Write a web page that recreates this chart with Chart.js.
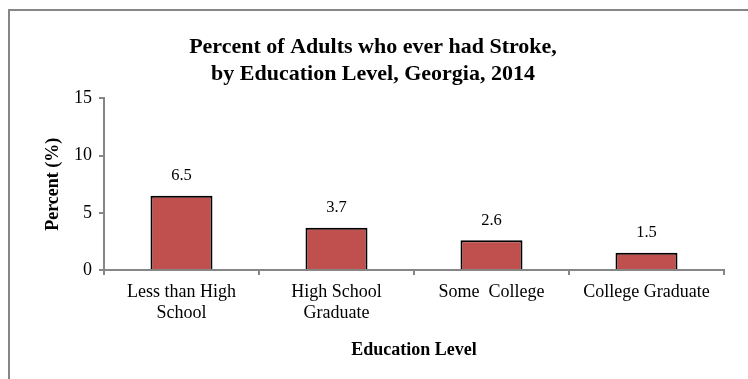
<!DOCTYPE html>
<html>
<head>
<meta charset="utf-8">
<script src="https://cdn.jsdelivr.net/npm/chart.js@4/dist/chart.umd.min.js"></script>
<style>
    body { margin: 0; background: #fff; }
    #wrap { position: relative; width: 748px; height: 379px; overflow: hidden; }
    #frame { position: absolute; left: 8px; top: 9px; width: 800px; height: 400px;
             border-left: 2px solid #868686; border-top: 2px solid #868686; pointer-events: none; }
</style>
</head>
<body>
<div id="wrap">
    <canvas id="strokeChart" width="748" height="379"></canvas>
    <div id="frame"></div>
</div>
<script>
'use strict'

const categories = [
    ['Less than High', 'School'],
    ['High School', 'Graduate'],
    'Some  College',
    'College Graduate'
];
const percentValues = [6.5, 3.7, 2.6, 1.5];
const yTicks = [0, 5, 10, 15];

const serif = "'Liberation Serif', 'Times New Roman', serif";
const axisGray = '#868686';

// value labels above each bar
const valueLabels = {
    id: 'valueLabels',
    afterDatasetsDraw(chart) {
        const ctx = chart.ctx;
        const meta = chart.getDatasetMeta(0);
        ctx.save();
        ctx.font = '16.5px ' + serif;
        ctx.fillStyle = '#000';
        ctx.textAlign = 'center';
        ctx.textBaseline = 'middle';
        meta.data.forEach((bar, i) => {
            ctx.fillText(percentValues[i].toFixed(1), bar.x, bar.y - 20);
        });
        ctx.restore();
    }
};

const ctx = document.getElementById('strokeChart').getContext('2d');

new Chart(ctx, {
    type: 'bar',
    data: {
        labels: categories,
        datasets: [{
            label: 'Percent',
            data: percentValues,
            backgroundColor: '#c0504d',
            borderColor: '#000',
            borderWidth: 2,
            borderSkipped: 'bottom',
            barPercentage: 0.4,
            categoryPercentage: 1
        }]
    },
    options: {
        responsive: false,
        animation: false,
        layout: {
            padding: { top: 10, left: 22, right: 24, bottom: 0 }
        },
        plugins: {
            legend: { display: false },
            tooltip: { enabled: false },
            title: {
                display: true,
                text: ['Percent of Adults who ever had Stroke,', 'by Education Level, Georgia, 2014'],
                color: '#000',
                font: { family: serif, size: 22, weight: 'bold', lineHeight: 1.227 },
                padding: { top: 23.5, bottom: 11 }
            }
        },
        scales: {
            x: {
                afterFit(scale) { scale.height = 109; },
                grid: {
                    drawOnChartArea: false,
                    drawTicks: true,
                    tickLength: 5,
                    color: axisGray,
                    lineWidth: 2
                },
                border: { color: axisGray, width: 2 },
                ticks: {
                    color: '#000',
                    padding: 7,
                    maxRotation: 0,
                    font: { family: serif, size: 18, lineHeight: 1.15 }
                },
                title: {
                    display: true,
                    text: 'Education Level',
                    color: '#000',
                    font: { family: serif, size: 18, weight: 'bold', lineHeight: 1.2 },
                    padding: { top: 0, bottom: 18.2 }
                }
            },
            y: {
                min: 0,
                max: 15,
                afterFit(scale) { scale.width = 82; },
                afterBuildTicks(scale) {
                    scale.ticks = yTicks.map(v => ({ value: v }));
                },
                grid: {
                    drawOnChartArea: false,
                    drawTicks: true,
                    tickLength: 5,
                    color: axisGray,
                    lineWidth: 2
                },
                border: { color: axisGray, width: 2 },
                ticks: {
                    color: '#000',
                    padding: 7,
                    font: { family: serif, size: 18 }
                },
                title: {
                    display: true,
                    text: 'Percent (%)',
                    color: '#000',
                    font: { family: serif, size: 18, weight: 'bold', lineHeight: 1.2 },
                    padding: { top: 20.2, bottom: 0 }
                }
            }
        }
    },
    plugins: [valueLabels]
});
</script>
</body>
</html>
